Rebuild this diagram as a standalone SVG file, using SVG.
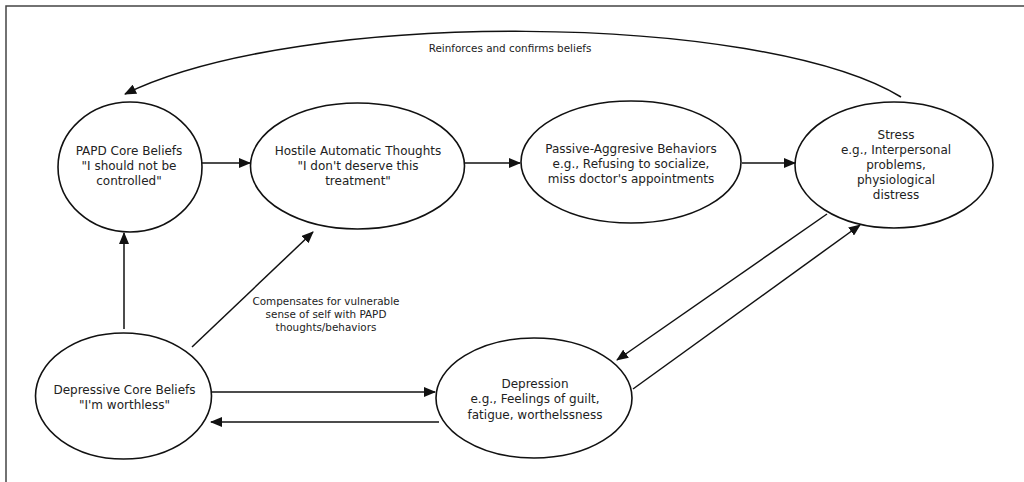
<svg xmlns="http://www.w3.org/2000/svg" width="1024" height="482" viewBox="0 0 1024 482">
<defs>
<marker id="ah" markerWidth="12" markerHeight="10" refX="11" refY="5" orient="auto" markerUnits="userSpaceOnUse">
<path d="M0,0 L12,5 L0,10 Z" fill="#111"/>
</marker>
<style>
.node ellipse{fill:#fff;stroke:#111;stroke-width:1.6}
.node text{font-family:"DejaVu Sans",Verdana,sans-serif;font-size:12px;fill:#222;text-anchor:middle}
.lbl{font-family:"DejaVu Sans",Verdana,sans-serif;font-size:10.4px;fill:#222;text-anchor:middle}
#connectors line,#connectors path{stroke:#111;stroke-width:1.5;fill:none;marker-end:url(#ah)}
</style>
</defs>
<rect x="0" y="0" width="1024" height="482" fill="#fff"/>
<rect x="6" y="6" width="1030" height="490" fill="none" stroke="#444" stroke-width="1.5"/>
<g id="connectors">
<path d="M901,97 C760,12 300,8 125,94"/>
<line x1="202" y1="163" x2="250" y2="163"/>
<line x1="464" y1="163" x2="520" y2="163"/>
<line x1="742" y1="163" x2="795" y2="163"/>
<line x1="124" y1="329" x2="124" y2="233"/>
<line x1="192" y1="347" x2="313" y2="232"/>
<line x1="211" y1="392" x2="435" y2="392"/>
<line x1="439" y1="422" x2="211" y2="422"/>
<line x1="827" y1="214" x2="617" y2="360"/>
<line x1="633" y1="389" x2="860" y2="225"/>
</g>
<text class="lbl" x="510" y="52">Reinforces and confirms beliefs</text>
<g class="lbl-group">
<text class="lbl" x="326" y="304.5">Compensates for vulnerable</text>
<text class="lbl" x="326" y="317.5">sense of self with PAPD</text>
<text class="lbl" x="326" y="330.5">thoughts/behaviors</text>
</g>
<g id="papd" class="node">
<ellipse cx="130" cy="167" rx="72" ry="65"/>
<text x="129" y="155">PAPD Core Beliefs</text>
<text x="129" y="170">"I should not be</text>
<text x="129" y="185">controlled"</text>
</g>
<g id="hostile" class="node">
<ellipse cx="357.5" cy="166" rx="107" ry="63"/>
<text x="358" y="155">Hostile Automatic Thoughts</text>
<text x="358" y="170">"I don't deserve this</text>
<text x="358" y="185">treatment"</text>
</g>
<g id="passive" class="node">
<ellipse cx="631" cy="162" rx="110" ry="61"/>
<text x="631" y="152.5">Passive-Aggresive Behaviors</text>
<text x="631" y="167.5">e.g., Refusing to socialize,</text>
<text x="631" y="182.5">miss doctor's appointments</text>
</g>
<g id="stress" class="node">
<ellipse cx="894" cy="165" rx="99" ry="63"/>
<text x="896" y="138.5">Stress</text>
<text x="896" y="153.5">e.g., Interpersonal</text>
<text x="896" y="168.5">problems,</text>
<text x="896" y="183.5">physiological</text>
<text x="896" y="198.5">distress</text>
</g>
<g id="depcore" class="node">
<ellipse cx="123.5" cy="396" rx="88" ry="63"/>
<text x="124.5" y="393.5">Depressive Core Beliefs</text>
<text x="124.5" y="409">"I'm worthless"</text>
</g>
<g id="depression" class="node">
<ellipse cx="534" cy="398" rx="98" ry="60"/>
<text x="535" y="387.5">Depression</text>
<text x="535" y="403">e.g., Feelings of guilt,</text>
<text x="535" y="418.5">fatigue, worthelssness</text>
</g>
</svg>
